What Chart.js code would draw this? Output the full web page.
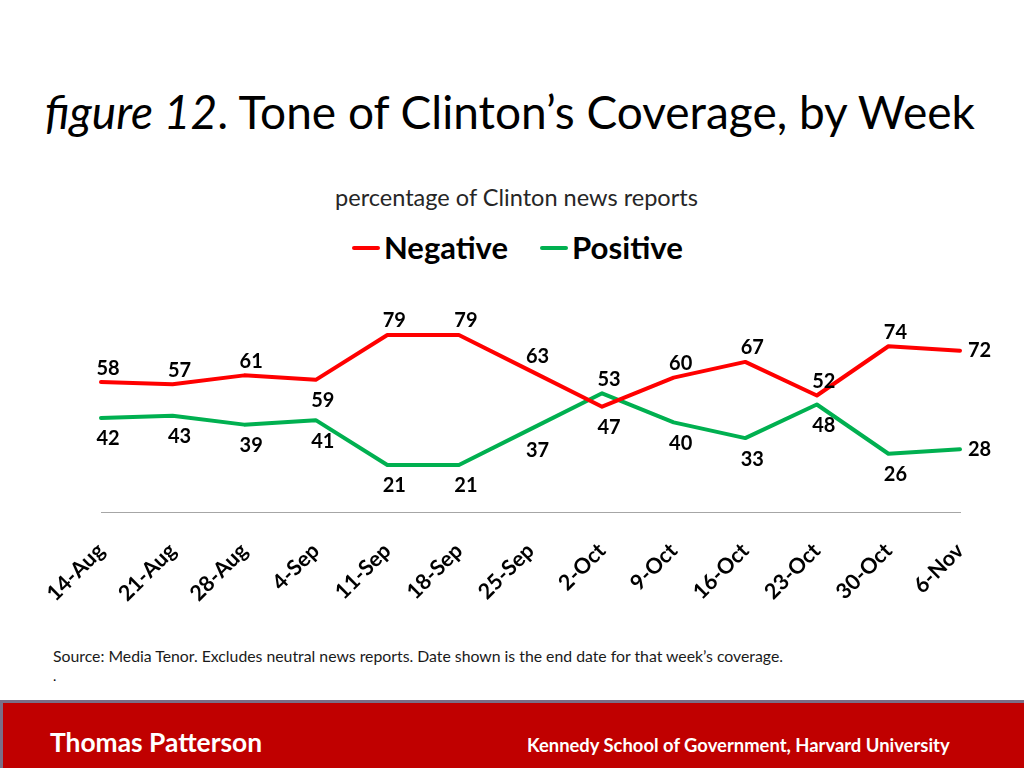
<!DOCTYPE html>
<html>
<head>
<meta charset="utf-8">
<title>Tone of Clinton's Coverage, by Week</title>
<script src="https://cdn.jsdelivr.net/npm/chart.js@4.4.1/dist/chart.umd.min.js"></script>
<style>
  body {
    margin: 0;
    width: 1024px;
    height: 768px;
    position: relative;
    overflow: hidden;
    background: #fff;
    font-family: Lato, "Liberation Sans", sans-serif;
    color: #000;
  }
  .txt { position: absolute; white-space: nowrap; line-height: 1; }
  #title { left: 45px; top: 89px; font-size: 44px; }
  #subtitle { left: 335px; top: 186px; font-size: 20px; color: #262626; }
  #legend { position: absolute; left: 352px; top: 232px; display: flex; align-items: center; }
  .item { display: flex; align-items: center; margin-right: 32px; font-weight: bold; font-size: 27px; line-height: 1; }
  .swatch { width: 28px; height: 4px; border-radius: 2px; margin-right: 4px; }
  #chartBox { position: absolute; left: 0; top: 270px; width: 1024px; height: 352px; }
  #source { left: 53px; top: 648px; font-size: 14px; color: #1a1a1a; }
  #dot { left: 53px; top: 669px; font-size: 14px; }
  #footer {
    position: absolute; left: 0; top: 700px; width: 1021px; height: 65px;
    background: #c00000;
    border-top: 3px solid #7a6f86;
    border-left: 3px solid #7a6f86;
  }
  #author { left: 47px; top: 26px; font-size: 26px; font-weight: bold; color: #fff; }
  #school { left: 524px; top: 33px; font-size: 18px; font-weight: bold; color: #fff; }
</style>
</head>
<body>
<div id="title" class="txt"><i>figure 12</i>. Tone of Clinton’s Coverage, by Week</div>
<div id="subtitle" class="txt">percentage of Clinton news reports</div>
<div id="legend">
  <div class="item"><div class="swatch" style="background:#ff0000"></div><span id="legNeg">Negative</span></div>
  <div class="item"><div class="swatch" style="background:#00b050"></div><span id="legPos">Positive</span></div>
</div>
<div id="chartBox"><canvas id="toneChart" width="1024" height="352"></canvas></div>
<div id="source" class="txt">Source: Media Tenor. Excludes neutral news reports. Date shown is the end date for that week’s coverage.</div>
<div id="dot" class="txt">.</div>
<div id="footer">
  <div id="author" class="txt">Thomas Patterson</div>
  <div id="school" class="txt">Kennedy School of Government, Harvard University</div>
</div>

<script>
// weekly data
const weeks = ["14-Aug", "21-Aug", "28-Aug", "4-Sep", "11-Sep", "18-Sep", "25-Sep",
  "2-Oct", "9-Oct", "16-Oct", "23-Oct", "30-Oct", "6-Nov"]
const negative = [58, 57, 61, 59, 79, 79, 63, 47, 60, 67, 52, 74, 72]
const positive = [42, 43, 39, 41, 21, 21, 37, 53, 40, 33, 48, 26, 28]

// where each value label sits relative to its point
const negativeLabelPos = ["top", "top", "top", "bottom", "top", "top", "top",
  "bottom", "top", "top", "top", "top", "right"]
const positiveLabelPos = ["bottom", "bottom", "bottom", "bottom", "bottom", "bottom", "bottom",
  "top", "bottom", "bottom", "bottom", "bottom", "right"]

const RED = "#ff0000"
const GREEN = "#00b050"

// scale a text block so it spans the same width as in the original slide
function fitWidth(id, target) {
  const el = document.getElementById(id)
  const w = el.getBoundingClientRect().width
  const size = parseFloat(getComputedStyle(el).fontSize)
  el.style.fontSize = (size * target / w).toFixed(2) + "px"
}
fitWidth("title", 930)
fitWidth("subtitle", 363)
fitWidth("legNeg", 124)
fitWidth("legPos", 111)
fitWidth("source", 730)
fitWidth("author", 212)
fitWidth("school", 423)

// simple value labels (no datalabels plugin available offline)
const valueLabels = {
  id: "valueLabels",
  afterDatasetsDraw(chart) {
    const ctx = chart.ctx
    ctx.save()
    ctx.font = "bold 20px Lato"
    ctx.fillStyle = "#000"
    ctx.textBaseline = "middle"
    chart.data.datasets.forEach((ds, i) => {
      const meta = chart.getDatasetMeta(i)
      meta.data.forEach((pt, j) => {
        const pos = ds.labelPos[j]
        let x = pt.x + 7
        let y = pt.y
        ctx.textAlign = "center"
        if (pos === "top") {
          y -= 14
        } else if (pos === "bottom") {
          y += 21
        } else {
          x = pt.x + 8
          ctx.textAlign = "left"
        }
        ctx.fillText(ds.data[j], x, y)
      })
    })
    ctx.restore()
  }
}

new Chart(document.getElementById("toneChart"), {
  type: "line",
  data: {
    labels: weeks,
    datasets: [
      {
        label: "Negative",
        data: negative,
        labelPos: negativeLabelPos,
        borderColor: RED,
        backgroundColor: RED,
        borderWidth: 4,
        pointRadius: 0,
        tension: 0,
        borderJoinStyle: "round",
        borderCapStyle: "round",
      },
      {
        label: "Positive",
        data: positive,
        labelPos: positiveLabelPos,
        borderColor: GREEN,
        backgroundColor: GREEN,
        borderWidth: 4,
        pointRadius: 0,
        tension: 0,
        borderJoinStyle: "round",
        borderCapStyle: "round",
      },
    ],
  },
  options: {
    responsive: false,
    animation: false,
    layout: { padding: { top: 18, left: 101, right: 64, bottom: 0 } },
    plugins: {
      legend: { display: false },
      tooltip: { enabled: false },
    },
    scales: {
      y: { display: false, min: 0, max: 100 },
      x: {
        offset: false,
        grid: { display: false, drawTicks: false },
        border: { color: "#a6a6a6", width: 1 },
        ticks: {
          color: "#000",
          font: { family: "Lato", size: 21.5, weight: "bold" },
          minRotation: 45,
          maxRotation: 45,
          padding: 26,
        },
        afterFit: (scale) => { scale.height = 110 },
      },
    },
  },
  plugins: [valueLabels],
})
</script>
</body>
</html>
